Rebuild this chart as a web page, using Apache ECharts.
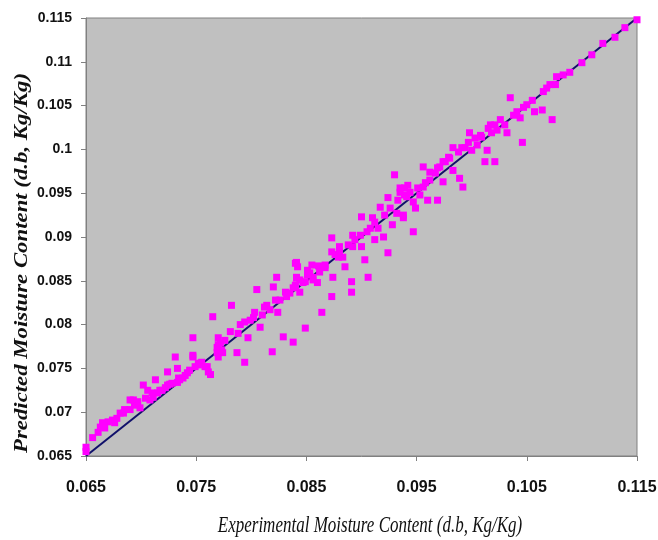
<!DOCTYPE html>
<html>
<head>
<meta charset="utf-8">
<script src="https://cdn.jsdelivr.net/npm/echarts@6/dist/echarts.min.js"></script>
<style>
html,body{margin:0;padding:0;background:#fff;}
#chart{width:658px;height:540px;}
</style>
</head>
<body>
<div id="chart"></div>
<script>
// Experimental (x) and predicted (y) moisture content
const expX = [
0.0650,0.0650,0.0656,0.0661,0.0665,0.0663,0.0667,0.0676,0.0678,0.0681,0.0684,0.0690,0.0690,0.0693,0.0697,0.0699,0.0702,0.0706,0.0708,0.0711,
0.0713,0.0715,0.0719,0.0722,0.0724,0.0724,0.0728,0.0731,0.0733,0.0733,0.0735,0.0738,0.0742,0.0747,0.0747,0.0752,0.0755,0.0760,0.0761,0.0769,0.0769,
0.0747,0.0752,0.0758,0.0763,0.0765,0.0770,0.0772,0.0773,0.0770,0.0774,0.0781,0.0782,0.0788,0.0787,0.0794,0.0797,0.0799,0.0802,0.0805,0.0808,
0.0810,0.0814,0.0817,0.0819,0.0820,0.0823,0.0824,0.0826,0.0829,0.0832,0.0835,0.0838,0.0838,0.0841,0.0841,0.0842,0.0844,0.0849,0.0849,0.0851,
0.0855,0.0856,0.0860,0.0864,0.0867,
0.0840,0.0841,0.0840,0.0847,0.0851,0.0856,0.0862,0.0873,0.0873,0.0873,0.0874,0.0879,0.0880,0.0883,0.0885,0.0891,0.0891,0.0892,0.0892,0.0900,
0.0900,0.0903,0.0905,0.0906,0.0910,0.0912,0.0915,0.0917,0.0920,0.0924,0.0924,0.0928,0.0930,0.0932,0.0935,0.0938,0.0939,0.0942,0.0947,0.0949,
0.0953,0.0960,
0.0935,0.0941,0.0947,0.0938,0.0956,0.0956,0.0962,0.0967,0.0969,0.0971,0.0974,0.0974,0.0979,0.0983,0.0983,0.0989,0.0992,0.0994,0.0998,0.1000,
0.1005,0.1009,0.1012,0.1014,0.1017,0.1021,0.1023,0.1030,0.1032,0.1035,0.1038,0.1041,0.1046,0.1047,0.1050,
0.1018,0.1044,0.1055,0.1057,0.1064,0.1073,0.1065,0.1068,0.1071,0.1076,0.1077,0.1083,0.1089,0.1100,0.1109,0.1119,0.1130,0.1139,0.1150,
0.0670,0.0674,0.0685,0.0694,0.0704,0.0710,0.0717,0.0726,0.0734,0.0740,0.0744,0.0749,0.0770,0.0776,0.0790,0.0794,0.0803,0.0812,0.0822,0.0831,
0.0840,0.0844,0.0853,0.0861,0.0862,0.0867,0.0876,0.0880,0.0888,0.0894,0.0899,0.0908,0.0912,0.0921,0.0926,0.0933,0.0939,0.0944,0.0951,0.0958,
0.0962,0.0969,0.0976,0.0980,0.0988,0.0991,0.0997,0.1003,0.1008,0.1015,0.1021,0.1026
];
const predY = [
0.0660,0.0655,0.0671,0.0677,0.0688,0.0683,0.0682,0.0688,0.0693,0.0699,0.0699,0.0703,0.0714,0.0714,0.0712,0.0705,0.0731,0.0725,0.0714,0.0717,
0.0737,0.0722,0.0725,0.0728,0.0746,0.0731,0.0733,0.0763,0.0750,0.0734,0.0737,0.0739,0.0745,0.0785,0.0765,0.0756,0.0757,0.0752,0.0746,0.0774,0.0768,
0.0763,0.0754,0.0752,0.0743,0.0809,0.0785,0.0779,0.0771,0.0763,0.0768,0.0792,0.0822,0.0790,0.0768,0.0757,0.0785,0.0805,0.0808,0.0840,0.0797,
0.0811,0.0822,0.0817,0.0769,0.0843,0.0854,0.0814,0.0828,0.0786,0.0832,0.0836,0.0780,0.0842,0.0853,0.0871,0.0866,0.0837,0.0796,0.0849,0.0857,
0.0868,0.0851,0.0848,0.0814,0.0865,
0.0870,0.0854,0.0843,0.0848,0.0862,0.0854,0.0866,0.0899,0.0883,0.0832,0.0854,0.0877,0.0889,0.0877,0.0866,0.0849,0.0837,0.0902,0.0889,0.0923,
0.0889,0.0874,0.0906,0.0854,0.0922,0.0897,0.0910,0.0934,0.0900,0.0882,0.0945,0.0914,0.0971,0.0927,0.0951,0.0922,0.0956,0.0959,0.0906,0.0933,
0.0948,0.0942,
0.0956,0.0946,0.0940,0.0925,0.0980,0.0957,0.0965,0.0973,0.0942,0.0980,0.0986,0.0963,0.0991,0.1002,0.0976,0.0967,0.0957,0.1002,0.1019,0.0999,
0.1005,0.1014,0.0986,0.0999,0.1028,0.0986,0.1022,0.1028,0.1019,0.1059,0.1039,0.1043,0.1008,0.1048,0.1051,
0.1019,0.1036,0.1056,0.1043,0.1045,0.1034,0.1066,0.1070,0.1074,0.1074,0.1083,0.1085,0.1088,0.1099,0.1108,0.1121,0.1128,0.1139,0.1148,
0.0689,0.0691,0.0703,0.0708,0.0716,0.0722,0.0725,0.0732,0.0739,0.0742,0.0748,0.0752,0.0777,0.0782,0.0800,0.0803,0.0814,0.0820,0.0828,0.0837,
0.0845,0.0851,0.0859,0.0867,0.0860,0.0868,0.0880,0.0883,0.0891,0.0897,0.0902,0.0910,0.0917,0.0925,0.0933,0.0942,0.0948,0.0951,0.0956,0.0962,
0.0974,0.0979,0.0986,0.0990,0.0997,0.1002,0.1008,0.1013,0.1016,0.1024,0.1028,0.1034
];
// 1:1 reference line
const lineX = [0.065, 0.115];
const lineY = [0.065, 0.115];
// tick labels
const xTickLabels = ['0.065','0.075','0.085','0.095','0.105','0.115'];
const yTickLabels = ['0.065','0.07','0.075','0.08','0.085','0.09','0.095','0.1','0.105','0.11','0.115'];
const xName = 'Experimental Moisture Content (d.b, Kg/Kg)';
const yName = 'Predicted Moisture Content (d.b, Kg/Kg)';

const pickLabel = (labels) => (v) => {
  let best = labels[0], bd = Infinity;
  labels.forEach(l => { const d = Math.abs(parseFloat(l) - v); if (d < bd) { bd = d; best = l; } });
  return best;
};

const scatterData = expX.map((x, i) => [x, predY[i]]);
const lineData = lineX.map((x, i) => [x, lineY[i]]);
const labelFont = "'Liberation Sans', Arial, sans-serif";
const nameFont = "'Liberation Serif', 'Times New Roman', serif";

const chart = echarts.init(document.getElementById('chart'), null, {renderer: 'canvas'});
chart.setOption({
  animation: false,
  backgroundColor: '#ffffff',
  grid: {
    left: 86, right: 21, top: 18, bottom: 84,
    outerBoundsMode: 'none', containLabel: false,
    show: true, backgroundColor: '#C0C0C0', borderColor: '#808080', borderWidth: 1
  },
  graphic: [
    {
      type: 'text', x: 370, y: 526, scaleY: 1.3,
      style: {text: xName, font: "italic 17px " + nameFont, fill: '#111', textAlign: 'center', textVerticalAlign: 'middle'}
    },
    {
      type: 'text', x: 22, y: 263, rotation: Math.PI / 2, scaleX: 1.2,
      style: {text: yName, font: "italic bold 19px " + nameFont, fill: '#111', textAlign: 'center', textVerticalAlign: 'middle'}
    }
  ],
  xAxis: {
    type: 'value', min: 0.065, max: 0.115, interval: 0.01,
    axisLine: {show: true, onZero: false, lineStyle: {color: '#808080', width: 1}},
    axisTick: {show: true, inside: false, length: 5, lineStyle: {color: '#808080'}},
    axisLabel: {
      margin: 24, formatter: pickLabel(xTickLabels),
      fontFamily: labelFont, fontWeight: 'bold', fontSize: 16, color: '#111'
    },
    splitLine: {show: false}
  },
  yAxis: {
    type: 'value', min: 0.065, max: 0.115, interval: 0.005,
    axisLine: {show: true, onZero: false, lineStyle: {color: '#808080', width: 1}},
    axisTick: {show: true, inside: false, length: 5, lineStyle: {color: '#808080'}},
    axisLabel: {
      margin: 14, formatter: pickLabel(yTickLabels),
      fontFamily: labelFont, fontWeight: 'bold', fontSize: 14, color: '#111'
    },
    splitLine: {show: false}
  },
  series: [
    {
      type: 'line', data: lineData, symbol: 'none', z: 2,
      lineStyle: {color: '#10106A', width: 2}
    },
    {
      type: 'scatter', data: scatterData, symbol: 'rect', symbolSize: 7, clip: false, z: 3,
      itemStyle: {color: '#FF00FF', opacity: 1}
    }
  ]
});
</script>
</body>
</html>
